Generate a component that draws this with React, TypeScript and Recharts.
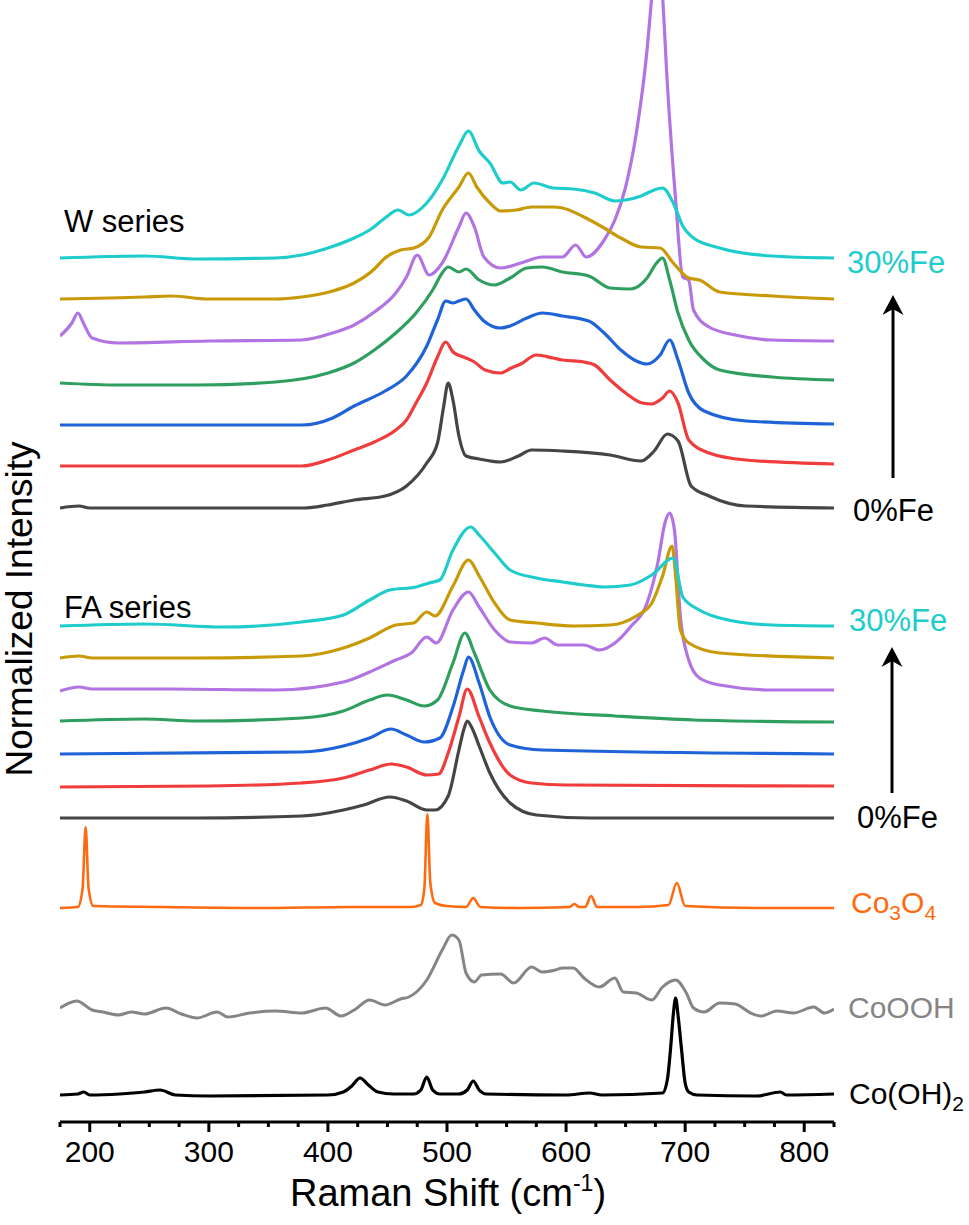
import React from "react";
import { LineChart, Line, XAxis, YAxis } from "recharts";

type Pt = [number, number];

// Raman shift (cm-1), intensity above the trace's own baseline (arb. units)
const wFe0: Pt[] = [[175,0],[191,2],[200,0],[380,0],[400,3],[422,8],[448,12],[466,22],[483,45],[492,65],[497,100],[501,125],[505,108],[510,72],[516,52],[527,49],[545,46],[560,52],[571,58],[597,57],[637,53],[663,47],[674,57],[685,74],[694,67],[705,22],[720,12],[751,2],[825,0]];
const wFe1: Pt[] = [[175,-2],[300,-2],[378,-2],[400,4],[422,14],[439,22],[457,34],[466,44],[474,61],[483,81],[492,107],[499,122],[505,112],[514,107],[523,102],[532,94],[545,91],[554,96],[562,100],[575,109],[589,106],[597,104],[615,102],[624,99],[637,84],[650,71],[664,61],[672,60],[681,66],[687,73],[694,61],[703,24],[720,11],[751,4],[825,0]];
const wFe2: Pt[] = [[175,-1],[378,-1],[404,6],[422,18],[448,33],[466,48],[483,78],[492,104],[499,123],[505,121],[510,123],[516,125],[523,114],[531,103],[545,96],[553,98],[567,106],[580,111],[597,108],[619,103],[632,91],[646,74],[659,63],[668,60],[679,69],[687,84],[694,64],[703,31],[716,13],[751,3],[825,0]];
const wFe3: Pt[] = [[175,-3],[224,-5],[290,-5],[356,-2],[400,7],[422,17],[439,30],[457,47],[474,67],[488,90],[496,107],[501,113],[510,108],[516,111],[527,100],[540,95],[553,102],[567,112],[580,113],[597,108],[619,104],[637,92],[654,91],[668,102],[676,117],[681,122],[687,100],[694,67],[703,40],[716,20],[729,10],[773,3],[825,0]];
const wFe4: Pt[] = [[175,5],[185,18],[190,28],[195,17],[202,3],[224,-2],[300,0],[378,1],[404,8],[422,16],[439,29],[457,48],[466,64],[475,86],[485,66],[496,78],[510,114],[516,128],[523,114],[531,84],[545,73],[562,78],[580,84],[597,84],[608,96],[617,84],[632,101],[641,121],[650,154],[659,208],[668,291],[672,345],[676,400],[681,345],[685,258],[692,141],[698,64],[703,61],[707,31],[720,14],[742,6],[773,1],[825,0]];
const wFe5: Pt[] = [[175,0],[246,2],[268,3],[300,0],[356,0],[378,2],[404,8],[422,16],[439,30],[448,41],[461,49],[472,51],[485,62],[496,89],[510,112],[518,126],[525,112],[536,96],[545,88],[558,89],[571,92],[589,92],[597,91],[615,82],[632,71],[646,61],[663,52],[679,51],[690,36],[703,21],[712,19],[729,7],[773,3],[825,0]];
const wFe6: Pt[] = [[175,0],[246,2],[290,-1],[356,0],[378,3],[400,10],[422,20],[435,28],[448,40],[459,48],[468,43],[483,55],[496,78],[510,112],[518,127],[527,107],[536,95],[547,75],[553,76],[562,68],[573,75],[589,70],[606,69],[624,65],[641,57],[650,58],[663,62],[672,67],[681,70],[690,55],[698,32],[707,20],[729,10],[773,2],[825,0]];

const faFe0: Pt[] = [[175,0],[290,0],[378,2],[413,8],[430,13],[452,21],[466,17],[483,8],[490,8],[501,22],[510,68],[514,88],[517,97],[521,90],[527,72],[536,45],[553,15],[575,3],[620,0],[825,0]];
const faFe1: Pt[] = [[175,-1],[300,0],[378,3],[413,8],[435,16],[453,22],[466,19],[483,11],[493,12],[501,33],[510,69],[517,97],[527,69],[536,43],[553,11],[571,3],[600,1],[825,0]];
const faFe2: Pt[] = [[175,0],[378,2],[413,8],[435,16],[453,25],[466,19],[481,12],[494,16],[505,47],[514,84],[518,97],[527,71],[536,37],[553,9],[580,4],[825,0]];
const faFe3: Pt[] = [[175,1],[246,3],[290,1],[378,4],[413,11],[435,22],[450,27],[466,22],[481,16],[492,22],[505,59],[515,89],[523,69],[536,32],[553,16],[580,11],[641,6],[707,2],[825,0]];
const faFe4: Pt[] = [[175,-1],[191,3],[202,1],[268,1],[356,0],[413,8],[435,18],[457,30],[470,37],[483,53],[491,47],[505,80],[518,98],[527,83],[540,60],[553,48],[571,47],[582,52],[593,45],[615,45],[628,40],[641,47],[654,63],[668,87],[677,127],[683,167],[687,177],[691,160],[696,73],[703,30],[712,12],[729,5],[773,0],[825,0]];
const faFe5: Pt[] = [[175,0],[191,2],[202,0],[290,0],[378,2],[413,10],[435,20],[457,33],[472,35],[483,46],[490,42],[505,72],[518,98],[527,82],[540,55],[553,38],[575,35],[606,32],[637,33],[659,42],[672,55],[681,82],[689,112],[692,82],[696,28],[703,15],[729,5],[825,0]];
const faFe6: Pt[] = [[175,0],[246,2],[312,-1],[378,4],[413,11],[435,26],[452,36],[474,39],[485,43],[494,46],[505,76],[520,99],[527,91],[540,73],[553,56],[575,48],[597,44],[615,41],[632,39],[654,41],[672,51],[690,68],[698,29],[712,16],[729,8],[773,1],[825,0]];

const co3o4: Pt[] = [[175,0],[190,1],[194,20],[196.5,81],[199,20],[203,2],[260,1],[340,0],[420,1],[470,1],[478,3],[481,20],[483.5,94],[486,25],[490,5],[500,2],[516,1],[522,10],[528,1],[560,0],[603,1],[607,4],[611,1],[616,1],[621,12],[626,1],[660,1],[686,3],[693,25],[700,2],[760,0],[825,0]];
const cooh: Pt[] = [[175,2],[189,9],[202,0],[211,-2],[224,-5],[235,-2],[246,-4],[264,2],[277,-4],[290,-8],[307,-2],[316,-7],[334,-3],[356,-1],[378,-3],[398,2],[411,-6],[422,0],[435,10],[448,5],[461,11],[468,13],[483,30],[496,60],[504,75],[510,70],[516,37],[523,28],[529,35],[545,36],[556,27],[571,43],[580,38],[591,40],[597,42],[606,42],[615,32],[628,23],[641,32],[648,18],[659,17],[672,10],[681,23],[692,30],[701,17],[707,2],[716,-2],[729,7],[742,6],[755,-3],[764,-6],[777,-1],[791,-3],[808,3],[817,-3],[825,1]];
const coOH2: Pt[] = [[175,0],[190,1],[195,3],[200,0],[225,1],[246,3],[259,5],[272,0],[300,-1],[400,0],[413,3],[420,9],[427,17],[434,10],[442,3],[455,1],[472,1],[478,5],[483,18],[488,5],[494,1],[510,1],[517,5],[522,14],[527,5],[533,1],[600,0],[620,2],[630,0],[681,2],[685,15],[688,50],[690,80],[692,97],[694,80],[697,45],[700,12],[703,3],[710,0],[760,-1],[780,3],[785,0],[825,1]];

// vertical stacking offsets, 0%Fe -> 30%Fe
const W_OFFSETS = [614, 658, 698, 742, 781, 823, 864];
const FA_OFFSETS = [304, 336, 368, 400, 432, 464, 496];
const CO3O4_OFFSET = 214;
const COOOH_OFFSET = 112;
const COOH2_OFFSET = 27;

const FE_COLORS = ["#454545", "#f03c3c", "#1f63d8", "#2f9f60", "#b273e3", "#c99a08", "#1ecccc"];
const X_TICKS = [175, 200, 225, 250, 275, 300, 325, 350, 375, 400, 425, 450, 475, 500, 525, 550, 575, 600, 625, 650, 675, 700, 725, 750, 775, 800, 825];

const W_SERIES = [wFe0, wFe1, wFe2, wFe3, wFe4, wFe5, wFe6];
const FA_SERIES = [faFe0, faFe1, faFe2, faFe3, faFe4, faFe5, faFe6];

const FONT = "'Liberation Sans', Arial, sans-serif";
const W = 969;
const H = 1225;
const PLOT_BOTTOM = 1122;

const shift = (pts: Pt[], off: number) => pts.map(([x, v]) => ({ x, y: v + off }));

const traces = [
  { key: "cooh2", data: shift(coOH2, COOH2_OFFSET), color: "#000000", width: 3.2 },
  { key: "cooh", data: shift(cooh, COOOH_OFFSET), color: "#858585", width: 3 },
  { key: "co3o4", data: shift(co3o4, CO3O4_OFFSET), color: "#ff6a10", width: 2.6 },
  ...FA_SERIES.map((pts, i) => ({ key: `fa${i}`, data: shift(pts, FA_OFFSETS[i]), color: FE_COLORS[i], width: 3.2 })),
  ...W_SERIES.map((pts, i) => ({ key: `w${i}`, data: shift(pts, W_OFFSETS[i]), color: FE_COLORS[i], width: 3.2 })),
];

const AxisTick = (props: any) => {
  const { x, y, payload } = props;
  const major = payload.value % 100 === 0;
  return (
    <g>
      <line x1={x} x2={x} y1={y} y2={y + (major ? 10 : 5)} stroke="#000" strokeWidth={3} />
      {major && (
        <text x={x} y={y + 40} textAnchor="middle" fontSize={30} fontFamily={FONT} fill="#000">
          {payload.value}
        </text>
      )}
    </g>
  );
};

const Arrow = ({ x, top, bottom }: { x: number; top: number; bottom: number }) => (
  <g>
    <line x1={x} x2={x} y1={bottom} y2={top + 14} stroke="#000" strokeWidth={3} />
    <polygon points={`${x},${top} ${x + 10.5},${top + 20} ${x},${top + 14} ${x - 10.5},${top + 20}`} fill="#000" />
  </g>
);

export default function App() {
  return (
    <div style={{ position: "absolute", left: 0, top: 0, width: W, height: H, background: "#fff" }}>
      <LineChart width={W} height={H} margin={{ top: 0, right: 135, bottom: 43, left: 60 }}>
        <XAxis
          type="number"
          dataKey="x"
          domain={[175, 825]}
          ticks={X_TICKS}
          interval={0}
          allowDataOverflow
          height={60}
          tickSize={0}
          tickMargin={0}
          tickLine={false}
          axisLine={{ stroke: "#000", strokeWidth: 3 }}
          tick={<AxisTick />}
        />
        <YAxis type="number" domain={[0, PLOT_BOTTOM]} hide allowDataOverflow width={0} />
        {traces.map((t) => (
          <Line
            key={t.key}
            data={t.data}
            dataKey="y"
            type="monotone"
            stroke={t.color}
            strokeWidth={t.width}
            strokeLinejoin="round"
            dot={false}
            activeDot={false}
            isAnimationActive={false}
          />
        ))}
      </LineChart>
      <svg
        width={W}
        height={H}
        style={{ position: "absolute", left: 0, top: 0, pointerEvents: "none" }}
        fontFamily={FONT}
      >
        <text x={32} y={609} transform="rotate(-90, 32, 609)" textAnchor="middle" fontSize={37} fill="#000">
          Normalized Intensity
        </text>
        <text x={448} y={1206} textAnchor="middle" fontSize={38} fill="#000">
          Raman Shift (cm
          <tspan fontSize={23} dy={-15}>-1</tspan>
          <tspan dy={15}>)</tspan>
        </text>

        <text x={64} y={232} fontSize={31} fill="#000">W series</text>
        <text x={64} y={618} fontSize={31} fill="#000">FA series</text>

        <text x={847} y={273} fontSize={31} fill="#1ecccc">30%Fe</text>
        <text x={853} y={521} fontSize={31} fill="#000">0%Fe</text>
        <Arrow x={893} top={295} bottom={478} />

        <text x={849} y={631} fontSize={31} fill="#1ecccc">30%Fe</text>
        <text x={857} y={828} fontSize={31} fill="#000">0%Fe</text>
        <Arrow x={892} top={647} bottom={793} />

        <text x={851} y={913} fontSize={30} fill="#ff6a10">
          Co<tspan fontSize={21} dy={7}>3</tspan>
          <tspan dy={-7}>O</tspan>
          <tspan fontSize={21} dy={7}>4</tspan>
        </text>
        <text x={848} y={1018} fontSize={30} fill="#858585">CoOOH</text>
        <text x={849} y={1104} fontSize={30} fill="#000">
          Co(OH)<tspan fontSize={21} dy={7}>2</tspan>
        </text>
      </svg>
    </div>
  );
}
